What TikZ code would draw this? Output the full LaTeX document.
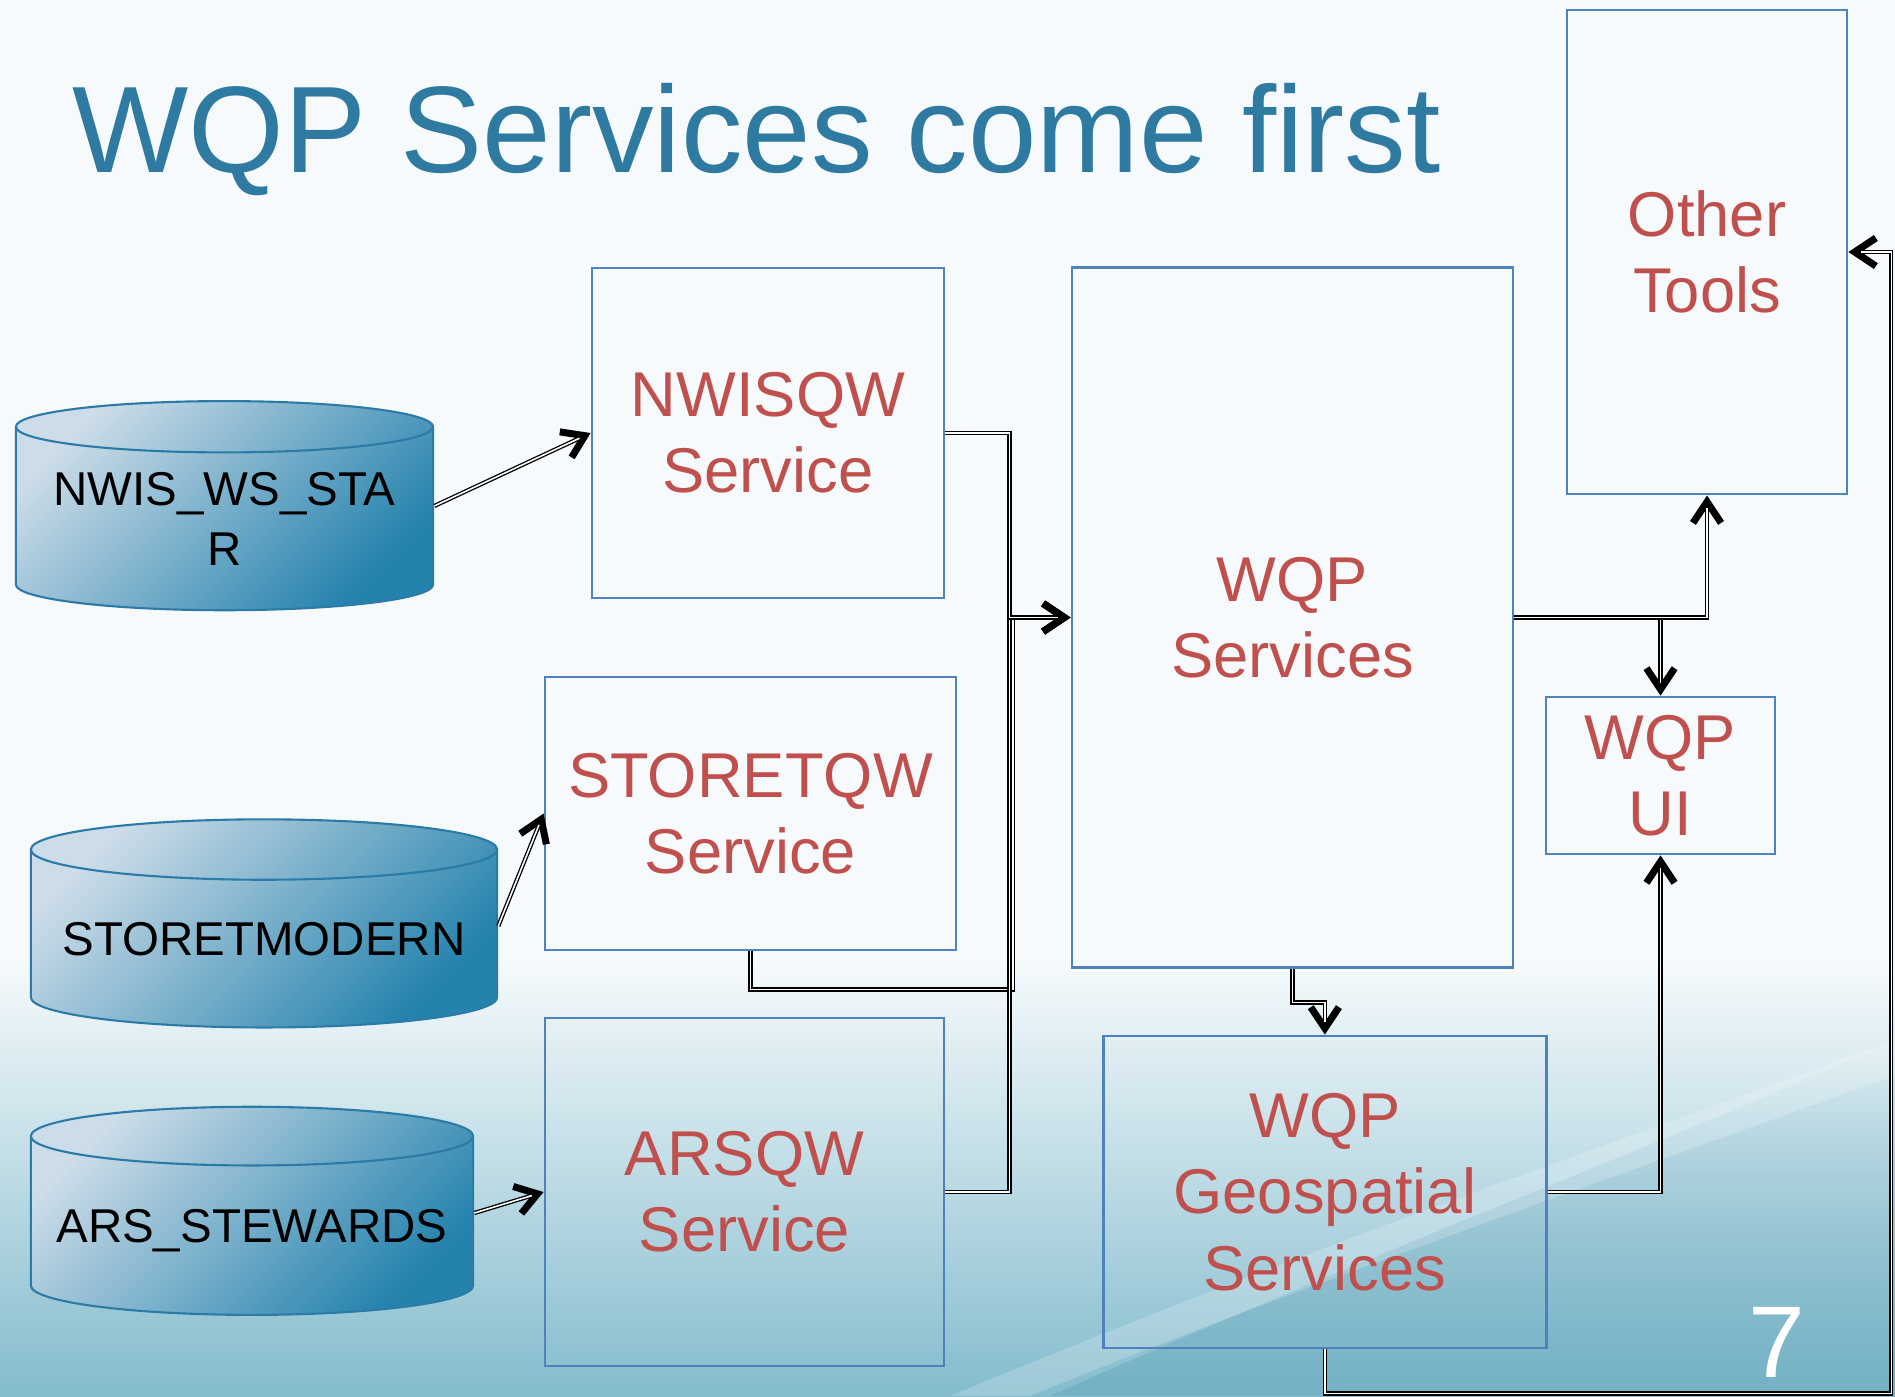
\documentclass[tikz,border=0pt]{standalone}
\usepackage{fontspec}
\setmainfont{Liberation Sans}
\usetikzlibrary{shapes.geometric, arrows.meta, positioning, fadings}

\definecolor{boxblue}{HTML}{4F81BD}
\definecolor{svcred}{HTML}{C0504D}
\definecolor{titleblue}{HTML}{2E7AA0}
\definecolor{dbedge}{HTML}{2C7BA6}
\definecolor{dblight}{HTML}{CCDCE8}
\definecolor{dbdark}{HTML}{2482AD}
\definecolor{bgtop}{HTML}{F6FAFC}
\definecolor{bgteal}{HTML}{84BCCD}
\definecolor{bgdeep}{HTML}{6AAAC0}

\begin{document}
\begin{tikzpicture}[x=0.01cm, y=-0.01cm,
  svc/.style={draw=boxblue, line width=0.75pt, text=svcred, align=center, inner sep=0pt, font=\fontsize{18}{21.7}\selectfont},
  db/.style={cylinder, shape border rotate=90, aspect=0.15, draw=dbedge, line width=0.6pt, top color=dblight, bottom color=dbdark, shading angle=45, align=center, inner sep=0pt, text depth=0pt, font=\fontsize{13.5}{17}\selectfont},
  link/.style={draw=black, line width=1.2pt, -{Straight Barb[length=6pt, width=8pt, line width=2pt]},
    postaction={draw=white, line width=0.45pt, -, shorten >=3.5pt}},
  ]
  \useasboundingbox (0,0) rectangle (1895,1396);
  % background
  \fill[bgtop] (0,0) rectangle (1895,1396);
  \shade[top color=bgtop, bottom color=bgteal] (0,960) rectangle (1895,1396);
  \fill[bgdeep, path fading=north, fill opacity=0.6] (1050,1396) .. controls (1400,1240) and (1700,1130) .. (1895,1040) -- (1895,1396) -- cycle;
  \fill[white, fill opacity=0.2] (950,1396) .. controls (1300,1250) and (1650,1130) .. (1895,1040) -- (1895,1075) .. controls (1650,1165) and (1300,1285) .. (1030,1396) -- cycle;

  \node[anchor=base west, text=titleblue, inner sep=0pt, font=\fontsize{35}{42}\selectfont] (title) at (72,172) {WQP Services come first};

  % databases
  \node[db, minimum width=4.17cm, minimum height=2.09cm] (nwis) at (224.5,519) {NWIS\_WS\_STA\\R};
  \node[db, minimum width=4.66cm, minimum height=2.08cm] (storet) at (264,939) {STORETMODERN};
  \node[db, minimum width=4.42cm, minimum height=2.08cm] (ars) at (252,1226) {ARS\_STEWARDS};

  % services
  \node[svc, minimum width=3.52cm, minimum height=3.30cm] (nwisqw) at (768,433) {NWISQW\\Service};
  \node[svc, minimum width=4.11cm, minimum height=2.73cm] (storetqw) at (750.5,813.5) {STORETQW\\Service};
  \node[svc, minimum width=3.99cm, minimum height=3.48cm] (arsqw) at (744.5,1192) {ARSQW\\Service};
  \node[svc, minimum width=4.41cm, minimum height=6.99cm] (wqpsvc) at (1292.5,617.5) {WQP\\Services};
  \node[svc, right of=arsqw, node distance=5.8cm, minimum width=4.43cm, minimum height=3.12cm] (geo) {WQP\\Geospatial\\Services};
  \node[svc, minimum width=2.80cm, minimum height=4.84cm] (other) at (1707,252) {Other\\Tools};
  \node[svc, minimum width=2.29cm, minimum height=1.57cm] (ui) at (1660.5,775.5) {WQP\\UI};

  \node[text=white, inner sep=0pt, font=\fontsize{29}{34}\selectfont] (pagenum) at (1777,1342) {7};

  \draw[link] ([yshift=3.7pt]nwis.east) -- (nwisqw.west);
  \draw[link] ([yshift=3.7pt]storet.east) -- (storetqw.west);
  \draw[link] ([yshift=3.7pt]ars.east) -- (arsqw.west);
  \draw[link] (storetqw.south) -- ++(0,38) -- ++(262.5,0) |- (wqpsvc.west);
  \draw[link] (arsqw.east) -- ++(64,0) |- (wqpsvc.west);
  \draw[link] (nwisqw.east) -- ++(64,0) |- (wqpsvc.west);
  \draw[link] (wqpsvc.east) -| (ui.north);
  \draw[link] (wqpsvc.east) -| (other.south);
  \draw[link] (wqpsvc.south) -- ++(0,34) -| (geo.north);
  \draw[link] (geo.east) -| (ui.south);
  \draw[link] (geo.south) -- ++(0,44) -- ++(566.5,0) |- (other.east);
\end{tikzpicture}
\end{document}
